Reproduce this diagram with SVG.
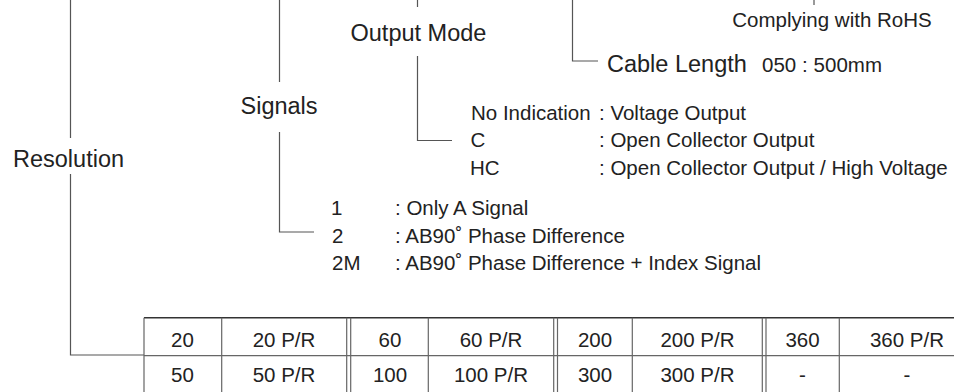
<svg xmlns="http://www.w3.org/2000/svg" width="954" height="392" viewBox="0 0 954 392">
<style>
text{font-family:"Liberation Sans",Arial,Helvetica,sans-serif;fill:#222}
.big{font-size:23.5px}
.sm{font-size:20.5px}
.c{text-anchor:middle}
.ln{fill:none;stroke:#555;stroke-width:1.2}
.tl{fill:none;stroke:#666;stroke-width:1.2}
.tt{fill:none;stroke:#333;stroke-width:1.6}
</style>
<rect width="954" height="392" fill="#fff"/>
<g id="connectors">
<path class="ln" d="M70.5,0V138M70.5,174V355H144"/>
<path class="ln" d="M279.5,0V82M279.5,132V232H314"/>
<path class="ln" d="M417.5,0V7M417.5,56V140.5H452"/>
<path class="ln" d="M572.5,0V61H598"/>
<path class="ln" d="M814,0V5"/>
</g>
<g id="resolution"><text class="big" x="13" y="167">Resolution</text></g>
<g id="signals"><text class="big" x="240.5" y="113.5">Signals</text>
<text class="sm" x="331" y="214.8">1</text><text class="sm" x="395" y="214.8">: Only A Signal</text>
<text class="sm" x="332" y="242.6">2</text><text class="sm" x="395" y="242.6">: AB90˚ Phase Difference</text>
<text class="sm" x="332" y="270.4">2M</text><text class="sm" x="395" y="270.4">: AB90˚ Phase Difference + Index Signal</text>
</g>
<g id="output-mode"><text class="big" x="350.5" y="41">Output Mode</text>
<text class="sm" x="471" y="119.5">No Indication</text><text class="sm" x="599" y="119.5">: Voltage Output</text>
<text class="sm" x="470.5" y="147.3">C</text><text class="sm" x="599" y="147.3">: Open Collector Output</text>
<text class="sm" x="470" y="175">HC</text><text class="sm" x="599" y="175">: Open Collector Output / High Voltage</text>
</g>
<g id="cable-length"><text class="big" x="607" y="71.7">Cable Length</text><text class="sm" x="762" y="71.7" textLength="120">050 : 500mm</text></g>
<g id="rohs"><text class="sm" x="732.3" y="27">Complying with RoHS</text></g>
<g id="resolution-table">
<path class="tt" d="M144,317.7H954"/>
<path class="tl" d="M144,355.7H954M144,317.7V392M221.7,317.7V392M346.7,317.7V392M350.7,317.7V392M428.3,317.7V392M553.7,317.7V392M557.5,317.7V392M632.3,317.7V392M762.3,317.7V392M766,317.7V392M839.3,317.7V392"/>
<text class="sm c" x="182.5" y="346.5">20</text><text class="sm c" x="284" y="346.5">20 P/R</text>
<text class="sm c" x="390" y="346.5">60</text><text class="sm c" x="491" y="346.5">60 P/R</text>
<text class="sm c" x="595" y="346.5">200</text><text class="sm c" x="697.5" y="346.5">200 P/R</text>
<text class="sm c" x="802.5" y="346.5">360</text><text class="sm c" x="907" y="346.5">360 P/R</text>
<text class="sm c" x="182.5" y="382">50</text><text class="sm c" x="284" y="382">50 P/R</text>
<text class="sm c" x="390" y="382">100</text><text class="sm c" x="491" y="382">100 P/R</text>
<text class="sm c" x="595" y="382">300</text><text class="sm c" x="697.5" y="382">300 P/R</text>
<text class="sm c" x="802.5" y="382">-</text><text class="sm c" x="907" y="382">-</text>
</g>
</svg>
